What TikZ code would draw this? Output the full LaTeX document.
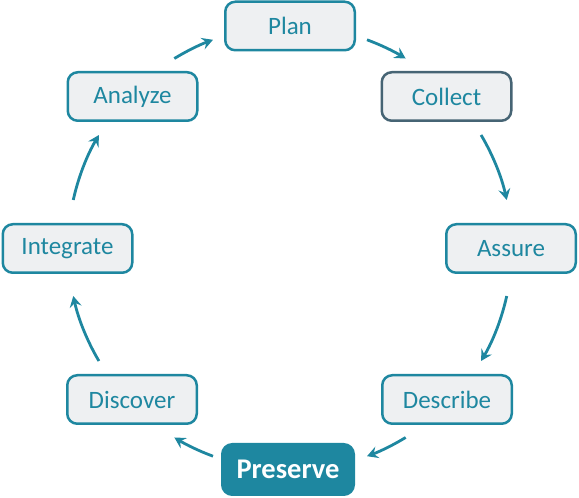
\documentclass[tikz,border=0pt]{standalone}
\usepackage{fontspec}
\setmainfont{Carlito}
\usetikzlibrary{arrows.meta}
\definecolor{teal1}{HTML}{1E87A0}
\definecolor{slate1}{HTML}{466474}
\definecolor{fill1}{HTML}{EEF0F2}
\tikzset{
  stage/.style={draw=teal1, line width=2.5pt, fill=fill1, rounded corners=10pt,
    minimum width=129.5pt, minimum height=48.5pt, inner sep=0pt,
    text=teal1, font=\fontsize{25}{29}\selectfont},
  stagedark/.style={stage, draw=slate1},
  stagemain/.style={stage, fill=teal1, minimum width=131.5pt, minimum height=50.5pt,
    text=white, font=\fontsize{28.5}{33}\selectfont\bfseries},
  arr/.style={draw=teal1, line width=2.8pt,
    -{Stealth[length=11pt,width=12pt,inset=4pt]}}
}
\begin{document}
\begin{tikzpicture}[x=1pt,y=1pt]
\useasboundingbox (0,0) rectangle (579,498);
\coordinate (ring) at (290,250);
\node[stage] (plan) at (290,472) {Plan};
\node[stagedark] (collect) at (446.5,401.5) {Collect};
\node[stage] (assure) at (511,249.5) {Assure};
\node[stage] (describe) at (447,98.5) {Describe};
\node[stagemain] (preserve) at (288,28.5) {Preserve};
\node[stage] (discover) at (132,98.5) {Discover};
\node[stage] (integrate) at (67.5,249.5) {Integrate};
\node[stage] (analyze) at (132.5,401.5) {Analyze};
\draw[arr] ([shift={(69.7:222pt)}]ring) arc[start angle=69.7, end angle=58.6, radius=222pt];
\draw[arr] ([shift={(30.6:222pt)}]ring) arc[start angle=30.6, end angle=12.5, radius=222pt];
\draw[arr] ([shift={(-12.5:222pt)}]ring) arc[start angle=-12.5, end angle=-30.6, radius=222pt];
\draw[arr] ([shift={(-58.6:222pt)}]ring) arc[start angle=-58.6, end angle=-69.7, radius=222pt];
\draw[arr] ([shift={(-110.3:222pt)}]ring) arc[start angle=-110.3, end angle=-121.4, radius=222pt];
\draw[arr] ([shift={(-149.4:222pt)}]ring) arc[start angle=-149.4, end angle=-167.5, radius=222pt];
\draw[arr] ([shift={(167.5:222pt)}]ring) arc[start angle=167.5, end angle=149.4, radius=222pt];
\draw[arr] ([shift={(121.4:222pt)}]ring) arc[start angle=121.4, end angle=110.3, radius=222pt];
\end{tikzpicture}
\end{document}
